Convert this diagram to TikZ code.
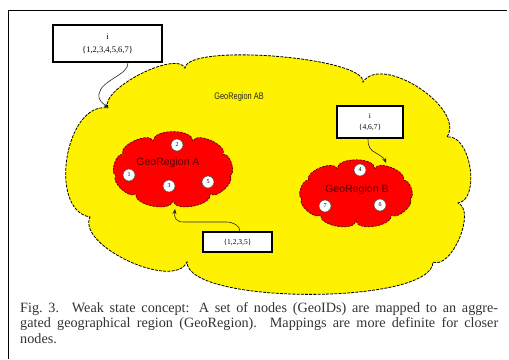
\documentclass[tikz,border=0pt]{standalone}
\usepackage{fontspec}
\setmainfont{Liberation Serif}
\setsansfont{Liberation Sans}
\usetikzlibrary{arrows.meta}
\tikzset{
  yellowcloud/.style={draw=black, line width=0.8pt, dash pattern=on 3pt off 1.2pt, fill=yellow},
  redcloud/.style={draw=red!40!black, line width=0.7pt, dash pattern=on 2.5pt off 1pt, fill=red},
  hostnode/.style={circle, draw=black!70, line width=0.5pt, fill=white, minimum size=12pt, inner sep=0pt, font=\fontsize{6}{6}\selectfont},
  labelbox/.style={draw=black, line width=1.1pt, fill=white, align=center, inner sep=0pt, font=\fontsize{7.5}{11}\selectfont},
  conn/.style={draw=black!85, line width=0.6pt, -{Stealth[length=5pt,width=4pt]}},
  regionlabel/.style={font=\sffamily\fontsize{10.5}{11}\selectfont, text=red!35!black, inner sep=0pt},
}
\begin{document}
\begin{tikzpicture}[x=1pt,y=-1pt]
\useasboundingbox (0,0) rectangle (509,359);
% frame
\draw[line width=0.8pt] (8,359) -- (8,10) -- (507,10);

% big yellow cloud
\path[yellowcloud] (108,108) coordinate (y1)
  to[bend left=90, looseness=0.6] (185,68)
  to[bend left=90, looseness=0.36] (363,82)
  to[bend left=90, looseness=0.88] (447,137)
  to[bend left=90, looseness=0.9] (458,203)
  to[bend left=90, looseness=0.8] (433,262)
  to[bend left=90, looseness=0.45] (187,262)
  to[bend left=90, looseness=0.76] (90,217)
  to[bend left=90, looseness=1.0] (108,108) -- cycle;

% red cloud A
\path[redcloud] (230.1,175.4)
  to[bend left=90, looseness=0.8] (210.3,193.7)
  to[bend left=90, looseness=0.8] (173,201)
  to[bend left=90, looseness=0.8] (135.7,193.7)
  to[bend left=90, looseness=0.8] (115.9,175.4)
  to[bend left=90, looseness=0.8] (122.8,154.5)
  to[bend left=90, looseness=0.8] (153.2,140.9)
  to[bend left=90, looseness=0.8] (192.8,140.9)
  to[bend left=90, looseness=0.8] (223.2,154.5)
  to[bend left=90, looseness=0.8] (230.1,175.4) -- cycle;

% red cloud B
\path[redcloud] (410.2,198.7)
  to[bend left=90, looseness=0.8] (391.4,214.7)
  to[bend left=90, looseness=0.8] (356,221)
  to[bend left=90, looseness=0.8] (320.6,214.7)
  to[bend left=90, looseness=0.8] (301.8,198.7)
  to[bend left=90, looseness=0.8] (308.4,180.5)
  to[bend left=90, looseness=0.8] (337.2,168.6)
  to[bend left=90, looseness=0.8] (374.8,168.6)
  to[bend left=90, looseness=0.8] (403.6,180.5)
  to[bend left=90, looseness=0.8] (410.2,198.7) -- cycle;

% region labels
\node[font=\sffamily\fontsize{9.5}{10}\selectfont, text=black!85, inner sep=0pt] (labAB) at (239,97) {\scalebox{0.78}[1]{GeoRegion AB}};
\node[regionlabel] (labA) at (168,163) {GeoRegion A};
\node[regionlabel] (labB) at (357,190) {GeoRegion B};

% host nodes
\node[hostnode] (n2) at (177,145) {2};
\node[hostnode] (n1) at (129,175) {1};
\node[hostnode] (n3) at (169,186) {3};
\node[hostnode] (n5) at (208,182) {5};
\node[hostnode] (n4) at (360,170) {4};
\node[hostnode] (n7) at (325,206) {7};
\node[hostnode] (n6) at (380,205) {6};

% label boxes
\node[labelbox, minimum width=109pt, minimum height=37pt, font=\fontsize{8.5}{13}\selectfont] (tb) at (107.5,43.5) {i\\\{1,2,3,4,5,6,7\}};
\node[labelbox, minimum width=66pt, minimum height=32pt] (bb) at (370,122) {i\\\{4,6,7\}};
\node[labelbox, minimum width=69pt, minimum height=20pt] (ba) at (237.5,242) {\{1,2,3,5\}};

% connector end points
\coordinate (rb) at (386,163);
\coordinate (ra) at (175,209);

% connectors
\draw[conn] ([xshift=20.5pt]tb.south) .. controls (129,75) and (101,80) .. (99,94)
  .. controls (98,101) and (103,103) .. (y1);
\draw[conn] ([xshift=-2pt]bb.south) .. controls (368,147) and (370,150) .. (376,153)
  .. controls (381,156) and (384,158) .. (rb);
\draw[conn] ([xshift=2.5pt]ba.north) .. controls (240,226) and (234,222) .. (226,222)
  -- (184,222) .. controls (176,222) and (174,218) .. (ra);

% caption
\node[anchor=north west, inner sep=0pt, text width=478pt, align=justify,
      font=\fontsize{14.2}{15.5}\selectfont, text=black!80] (cap) at (20,302)
  {Fig.~3.\enspace\ Weak state concept: A set of nodes (GeoIDs) are mapped to an aggre-\linebreak
   gated geographical region (GeoRegion). Mappings are more definite for closer\linebreak
   nodes.};
\end{tikzpicture}
\end{document}
